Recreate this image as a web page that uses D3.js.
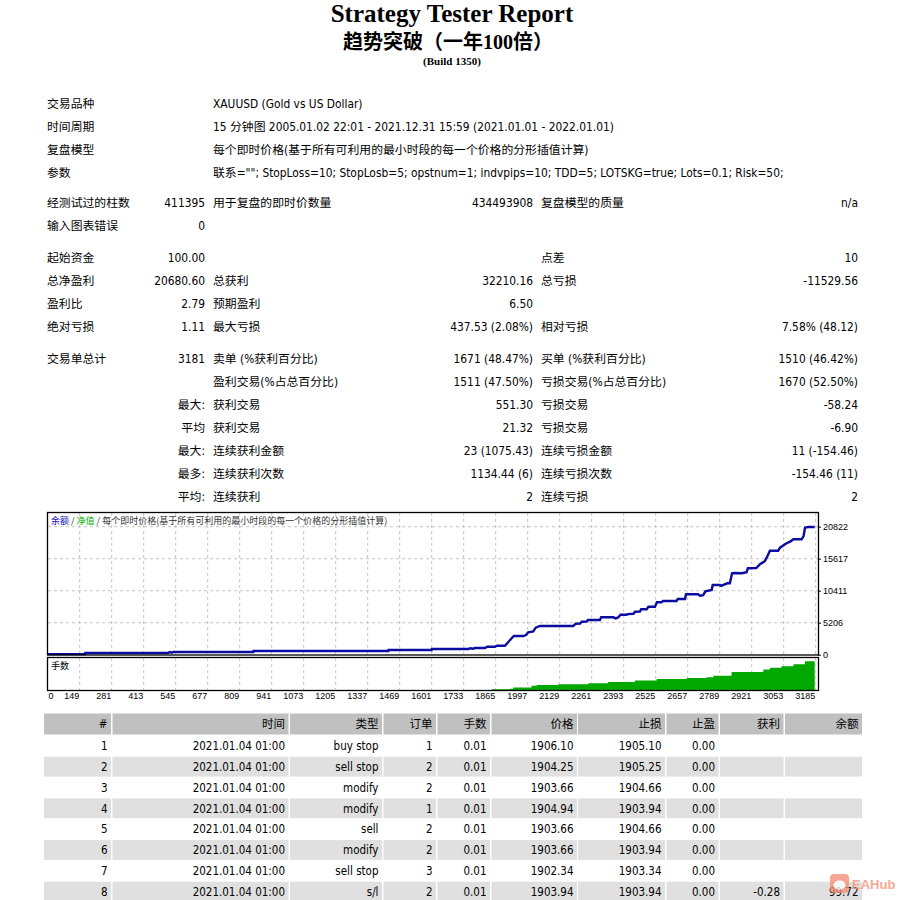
<!DOCTYPE html>
<html>
<head>
<meta charset="utf-8">
<script src="https://cdn.jsdelivr.net/npm/d3@7"></script>
<style>
  body { margin: 0; background: #fff; }
  svg { display: block; }
  .txt { font-family: "DejaVu Sans Condensed", "Liberation Sans", "Noto Sans CJK SC", sans-serif; font-size: 11.5px; fill: #000; }
  .info { font-size: 11.85px; }
  .ax text { font-family: "Liberation Sans", Arial, sans-serif; font-size: 9px; fill: #000; }
</style>
</head>
<body>
<div id="report"></div>
<script>
// header / info block
const infoLabels = ['交易品种', '时间周期', '复盘模型', '参数']
const infoValues = [
  'XAUUSD (Gold vs US Dollar)',
  '15 分钟图 2005.01.02 22:01 - 2021.12.31 15:59 (2021.01.01 - 2022.01.01)',
  '每个即时价格(基于所有可利用的最小时段的每一个价格的分形插值计算)',
  '联系=""; StopLoss=10; StopLosb=5; opstnum=1; indvpips=10; TDD=5; LOTSKG=true; Lots=0.1; Risk=50;'
]

// summary block, six columns
const statLabelA = ['经测试过的柱数', '输入图表错误', '起始资金', '总净盈利', '盈利比', '绝对亏损', '交易单总计', '', '', '', '', '', '']
const statValueA = ['411395', '0', '100.00', '20680.60', '2.79', '1.11', '3181', '', '最大:', '平均', '最大:', '最多:', '平均:']
const statLabelB = ['用于复盘的即时价数量', '', '', '总获利', '预期盈利', '最大亏损', '卖单 (%获利百分比)', '盈利交易(%占总百分比)', '获利交易', '获利交易', '连续获利金额', '连续获利次数', '连续获利']
const statValueB = ['434493908', '', '', '32210.16', '6.50', '437.53 (2.08%)', '1671 (48.47%)', '1511 (47.50%)', '551.30', '21.32', '23 (1075.43)', '1134.44 (6)', '2']
const statLabelC = ['复盘模型的质量', '', '点差', '总亏损', '', '相对亏损', '买单 (%获利百分比)', '亏损交易(%占总百分比)', '亏损交易', '亏损交易', '连续亏损金额', '连续亏损次数', '连续亏损']
const statValueC = ['n/a', '', '10', '-11529.56', '', '7.58% (48.12)', '1510 (46.42%)', '1670 (52.50%)', '-58.24', '-6.90', '11 (-154.46)', '-154.46 (11)', '2']

// balance curve (trade #, balance)
const balanceTrades = [0, 171, 172, 514, 520, 528, 535, 865, 866, 1422, 1423, 1601, 1602, 1752, 1760, 1772, 1780, 1821, 1830, 1862, 1870, 1903,
  1931, 1940, 1979, 1990, 1999, 2020, 2030, 2048, 2185, 2195, 2213, 2220, 2240, 2245, 2295, 2300, 2350, 2360, 2371, 2380, 2405,
  2410, 2433, 2440, 2460, 2465, 2488, 2495, 2522, 2530, 2549, 2555, 2611, 2616, 2646, 2650, 2700, 2708, 2721, 2730, 2756, 2760,
  2790, 2795, 2820, 2831, 2840, 2852, 2880, 2900, 2905, 2940, 2955, 2975, 2983, 2996, 3030, 3038, 3060, 3065, 3080, 3093, 3120,
  3127, 3135, 3141, 3154, 3181]
const balanceValues = [100, 110, 277, 277, 440, 330, 440, 440, 600, 600, 765, 765, 927, 927, 1050, 980, 1090, 1090, 1300, 1300, 1465, 1465,
  2668, 3040, 3040, 3200, 3645, 3800, 4395, 4670, 4670, 5045, 5050, 5370, 5380, 5646, 5646, 6085, 6085, 5900, 6085, 6508, 6508,
  6600, 6650, 6996, 7000, 7387, 7400, 7810, 7810, 8525, 8525, 8737, 8737, 9062, 9062, 9827, 9827, 9600, 9700, 10300, 10527, 11340,
  11340, 11200, 11617, 11617, 13244, 13300, 13250, 13406, 14057, 14100, 14708, 15200, 15782, 16921, 16921, 17410, 18000, 18125, 18400, 18776, 18800,
  18776, 19300, 20663, 20776, 20780.6]

// lots pane (trade #, lot size)
const lotTrades = [0, 1848, 1924, 1938, 2013, 2034, 2123, 2247, 2329, 2439, 2529, 2653, 2735, 2763, 2838, 2969, 2996, 3044, 3093, 3141, 3181]
const lotValues = [0.01, 0.10, 0.16, 0.26, 0.45, 0.52, 0.58, 0.68, 0.81, 0.94, 1.10, 1.20, 1.26, 1.42, 1.78, 2.01, 2.20, 2.33, 2.52, 2.82, 2.82]

const xTicks = [0, 149, 281, 413, 545, 677, 809, 941, 1073, 1205, 1337, 1469, 1601, 1733, 1865, 1997, 2129, 2261, 2393, 2525, 2657, 2789, 2921, 3053, 3185]
const yTicks = [0, 5206, 10411, 15617, 20822]

// order table
const tableHeaders = ['#', '时间', '类型', '订单', '手数', '价格', '止损', '止盈', '获利', '余额']
const tradeNo = [1, 2, 3, 4, 5, 6, 7, 8]
const tradeTime = ['2021.01.04 01:00', '2021.01.04 01:00', '2021.01.04 01:00', '2021.01.04 01:00', '2021.01.04 01:00', '2021.01.04 01:00', '2021.01.04 01:00', '2021.01.04 01:00']
const tradeType = ['buy stop', 'sell stop', 'modify', 'modify', 'sell', 'modify', 'sell stop', 's/l']
const tradeOrder = [1, 2, 2, 1, 2, 2, 3, 2]
const tradeLots = ['0.01', '0.01', '0.01', '0.01', '0.01', '0.01', '0.01', '0.01']
const tradePrice = ['1906.10', '1904.25', '1903.66', '1904.94', '1903.66', '1903.66', '1902.34', '1903.94']
const tradeSL = ['1905.10', '1905.25', '1904.66', '1903.94', '1904.66', '1903.94', '1903.34', '1903.94']
const tradeTP = ['0.00', '0.00', '0.00', '0.00', '0.00', '0.00', '0.00', '0.00']
const tradeProfit = ['', '', '', '', '', '', '', '-0.28']
const tradeBalance = ['', '', '', '', '', '', '', '99.72']

const W = 901, H = 900

const svg = d3.select('#report').append('svg')
  .attr('width', W)
  .attr('height', H)

/*Titles*/
svg.append('text')
  .attr('x', 452).attr('y', 22)
  .attr('text-anchor', 'middle')
  .style('font-family', '"Liberation Serif", "Times New Roman", serif')
  .style('font-weight', 'bold').style('font-size', '25px')
  .text('Strategy Tester Report')

svg.append('text')
  .attr('x', 448).attr('y', 49)
  .attr('text-anchor', 'middle')
  .style('font-family', '"Liberation Serif", "Noto Sans CJK SC", serif')
  .style('font-weight', 'bold').style('font-size', '20px')
  .text('趋势突破（一年100倍）')

svg.append('text')
  .attr('x', 452).attr('y', 65)
  .attr('text-anchor', 'middle')
  .style('font-family', '"Liberation Serif", "Times New Roman", serif')
  .style('font-weight', 'bold').style('font-size', '11px')
  .text('(Build 1350)')

/*Info rows*/
const info = svg.append('g').attr('class', 'txt info')
infoLabels.forEach((lab, i) => {
  const y = 103.5 + i * 23
  info.append('text').attr('x', 47).attr('y', y).attr('dy', '0.36em').text(lab)
  info.append('text').attr('x', 213).attr('y', y).attr('dy', '0.36em').text(infoValues[i])
})

/*Summary rows*/
const stats = svg.append('g').attr('class', 'txt info')
statLabelA.forEach((lab, i) => {
  const y = 202.5 + i * 23 + (i >= 2 ? 9 : 0) + (i >= 6 ? 9 : 0)
  const cells = [
    [lab, 47, 'start'], [statValueA[i], 205, 'end'],
    [statLabelB[i], 213, 'start'], [statValueB[i], 533, 'end'],
    [statLabelC[i], 541, 'start'], [statValueC[i], 858, 'end']
  ]
  cells.forEach(c => {
    if (c[0] === '') return
    stats.append('text').attr('x', c[1]).attr('y', y).attr('dy', '0.36em')
      .attr('text-anchor', c[2]).text(c[0])
  })
})

/*Chart*/
const xScale = d3.scaleLinear().domain([0, 149, 3185]).range([48, 79.7, 815.7])
const yScale = d3.scaleLinear().domain([0, 20822]).range([654.7, 526.7])
const lotScale = d3.scaleLinear().domain([0, 3.3]).range([690.3, 656.3])

const chart = svg.append('g').attr('class', 'chart')

// vertical grid (both panes)
const vgrid = xTicks.filter(t => t > 0)
chart.append('g').selectAll('line')
  .data(vgrid).enter().append('line')
  .attr('x1', d => xScale(d)).attr('x2', d => xScale(d))
  .attr('y1', 513).attr('y2', 654)
  .attr('stroke', '#c4c4c4').attr('stroke-dasharray', '3,3')
chart.append('g').selectAll('line')
  .data(vgrid).enter().append('line')
  .attr('x1', d => xScale(d)).attr('x2', d => xScale(d))
  .attr('y1', 658).attr('y2', 690)
  .attr('stroke', '#c4c4c4').attr('stroke-dasharray', '3,3')

// horizontal grid
chart.append('g').selectAll('line')
  .data(yTicks.filter(t => t > 0)).enter().append('line')
  .attr('x1', 48).attr('x2', 818)
  .attr('y1', d => yScale(d)).attr('y2', d => yScale(d))
  .attr('stroke', '#c4c4c4').attr('stroke-dasharray', '3,3')

// lots area
const lots = lotTrades.map((n, i) => ({ n: n, lot: lotValues[i] }))
chart.append('path')
  .datum(lots)
  .attr('fill', '#00a800')
  .attr('d', d3.area().curve(d3.curveStepAfter)
    .x(d => xScale(d.n))
    .y0(lotScale(0))
    .y1(d => lotScale(d.lot)))

// balance line
const balance = balanceTrades.map((n, i) => ({ n: n, v: balanceValues[i] }))
chart.append('path')
  .datum(balance)
  .attr('fill', 'none')
  .attr('stroke', '#0c0ca0')
  .attr('stroke-width', 2.4)
  .attr('d', d3.line().x(d => xScale(d.n)).y(d => yScale(d.v)))

// frames
chart.append('rect').attr('x', 47.5).attr('y', 512.5).attr('width', 771).attr('height', 142.5)
  .attr('fill', 'none').attr('stroke', '#000').attr('stroke-width', 1.3)
chart.append('rect').attr('x', 47.5).attr('y', 657.5).attr('width', 771).attr('height', 33)
  .attr('fill', 'none').attr('stroke', '#000').attr('stroke-width', 1.3)

// legend
const leg = chart.append('text').attr('x', 51).attr('y', 524)
  .style('font-family', '"Noto Sans CJK SC", sans-serif').style('font-size', '9px')
leg.append('tspan').attr('fill', '#1010c0').text('余额')
leg.append('tspan').attr('fill', '#333').text(' / ')
leg.append('tspan').attr('fill', '#00b000').text('净值')
leg.append('tspan').attr('fill', '#333').text(' / 每个即时价格(基于所有可利用的最小时段的每一个价格的分形插值计算)')

chart.append('text').attr('x', 51).attr('y', 669)
  .style('font-family', '"Noto Sans CJK SC", sans-serif').style('font-size', '9px')
  .text('手数')

// axes
const xAxis = d3.axisBottom(xScale).tickValues(xTicks).tickSize(0).tickFormat(d3.format('d'))
const gx = chart.append('g').attr('class', 'ax')
  .attr('transform', 'translate(0,693)')
  .call(xAxis)
gx.select('.domain').remove()
gx.selectAll('text')
  .attr('text-anchor', d => d === 0 ? 'start' : 'end')
  .attr('x', d => d === 0 ? 48 - xScale(0) : -1)
  .attr('dy', '0.71em').attr('y', 0)

const yAxis = d3.axisRight(yScale).tickValues(yTicks).tickSize(3).tickPadding(2).tickFormat(d3.format('d'))
const gy = chart.append('g').attr('class', 'ax')
  .attr('transform', 'translate(818,0)')
  .call(yAxis)
gy.select('.domain').remove()
gy.selectAll('line').attr('stroke', '#000')

/*Order table*/
const colLeft = [44, 112.5, 290, 383.5, 437.5, 491.5, 578, 666.5, 720, 785]
const colRight = [111, 288.5, 382, 436, 490, 577, 665, 718.5, 783.5, 862]
const table = svg.append('g').attr('class', 'txt')

const headRow = table.append('g')
tableHeaders.forEach((h, j) => {
  headRow.append('rect').attr('x', colLeft[j]).attr('y', 713.5)
    .attr('width', colRight[j] - colLeft[j]).attr('height', 21).attr('fill', '#c0c0c0')
  headRow.append('text').attr('x', colRight[j] - 3.5).attr('y', 724).attr('dy', '0.36em')
    .attr('text-anchor', 'end').text(h)
})

tradeNo.forEach((no, i) => {
  const y = 735.9 + i * 20.83
  const vals = [no, tradeTime[i], tradeType[i], tradeOrder[i], tradeLots[i], tradePrice[i],
    tradeSL[i], tradeTP[i], tradeProfit[i], tradeBalance[i]]
  const row = table.append('g')
  vals.forEach((v, j) => {
    row.append('rect').attr('x', colLeft[j]).attr('y', y)
      .attr('width', colRight[j] - colLeft[j]).attr('height', 19.8)
      .attr('fill', i % 2 === 1 ? '#e0e0e0' : '#fff')
    row.append('text').attr('x', colRight[j] - 3.5).attr('y', y + 10).attr('dy', '0.36em')
      .attr('text-anchor', 'end').text(v)
  })
})

/*Watermark*/
const wm = svg.append('g').attr('opacity', 0.8)
wm.append('rect').attr('x', 830).attr('y', 874).attr('width', 19).attr('height', 19).attr('rx', 4)
  .attr('fill', '#f5927a')
wm.append('ellipse').attr('cx', 839.5).attr('cy', 885).attr('rx', 6).attr('ry', 4.5).attr('fill', '#fff')
wm.append('text').attr('x', 852).attr('y', 889)
  .style('font-family', '"Liberation Sans", Arial, sans-serif').style('font-weight', 'bold').style('font-size', '13px')
  .attr('fill', '#f5927a').text('EAHub')
</script>
</body>
</html>
